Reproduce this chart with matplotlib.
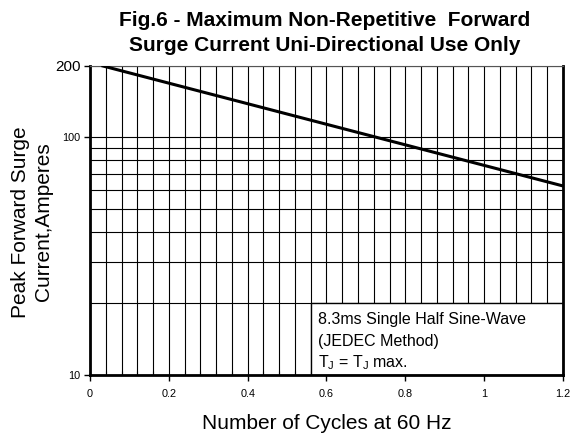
from matplotlib import pyplot as plt
from matplotlib.patches import Rectangle
from matplotlib.ticker import FixedLocator, NullFormatter

plt.rcParams['font.family'] = ['Liberation Sans', 'DejaVu Sans']

# data
cycles = [0.033, 1.2]
current = [200, 62.5]

x_major = [0, 0.2, 0.4, 0.6, 0.8, 1, 1.2]
x_major_labels = ['0', '0.2', '0.4', '0.6', '0.8', '1', '1.2']
x_minor = [i * 0.04 for i in range(31)]
y_major = [10, 100, 200]
y_major_labels = ['10', '100', '200']
y_minor = [20, 30, 40, 50, 60, 70, 80, 90]

fig = plt.figure(figsize=(5.79, 4.33), dpi=100)
ax = fig.add_axes([0.1554, 0.134, 0.817, 0.7136])

ax.set_yscale('log')
ax.set_xlim(0, 1.2)
ax.set_ylim(10, 200)

ax.plot(cycles, current, color='black', lw=2.2, zorder=4)

# ticks and grid
ax.xaxis.set_major_locator(FixedLocator(x_major))
ax.xaxis.set_minor_locator(FixedLocator(x_minor))
ax.set_xticklabels(x_major_labels)
ax.yaxis.set_major_locator(FixedLocator(y_major))
ax.yaxis.set_minor_locator(FixedLocator(y_minor))
ax.yaxis.set_minor_formatter(NullFormatter())
ax.set_yticklabels(y_major_labels)
for lab in ax.get_yticklabels():
    if lab.get_text() == '200':
        lab.set_fontsize(11)
    else:
        lab.set_fontsize(7.8)
ax.tick_params(axis='x', which='major', labelsize=7.8, length=4, width=1,
               direction='out', pad=6)
ax.tick_params(axis='x', which='minor', length=3, width=0.8, direction='in')
ax.tick_params(axis='y', which='major', length=4, width=1, direction='out',
               pad=3)
ax.tick_params(axis='y', which='minor', length=0)

ax.grid(True, which='both', axis='both', color='black', lw=0.8, zorder=1)
ax.set_axisbelow(True)

# frame
ax.spines['left'].set_linewidth(2)
ax.spines['bottom'].set_linewidth(2)
ax.spines['right'].set_linewidth(2)
ax.spines['top'].set_linewidth(0.8)
ax.spines['top'].set_color('#555555')

# note box
box = Rectangle((0.56, 10), 0.64, 10, facecolor='white', edgecolor='black',
                lw=1, zorder=2)
ax.add_patch(box)
ax.text(0.578, 17.2, '8.3ms Single Half Sine-Wave', fontsize=11.5, zorder=3,
        va='center')
ax.text(0.578, 13.9, '(JEDEC Method)', fontsize=11.5, zorder=3, va='center')
ax.text(0.578, 11.25, r'T$_{\mathregular{J}}$ = T$_{\mathregular{J}}$ max.',
        fontsize=11.5, zorder=3, va='center')

fig.text(0.561, 0.952, 'Fig.6 - Maximum Non-Repetitive  Forward',
         ha='center', va='center', fontsize=15, fontweight='bold')
fig.text(0.561, 0.896, 'Surge Current Uni-Directional Use Only',
         ha='center', va='center', fontsize=15, fontweight='bold')

ax.set_xlabel('Number of Cycles at 60 Hz', fontsize=15)
ax.xaxis.set_label_coords(0.5, -0.127)
ax.set_ylabel('Peak Forward Surge\nCurrent,Amperes', fontsize=15,
              linespacing=1.25)
ax.yaxis.set_label_coords(-0.078, 0.495)

plt.savefig('out.png', dpi=100)
